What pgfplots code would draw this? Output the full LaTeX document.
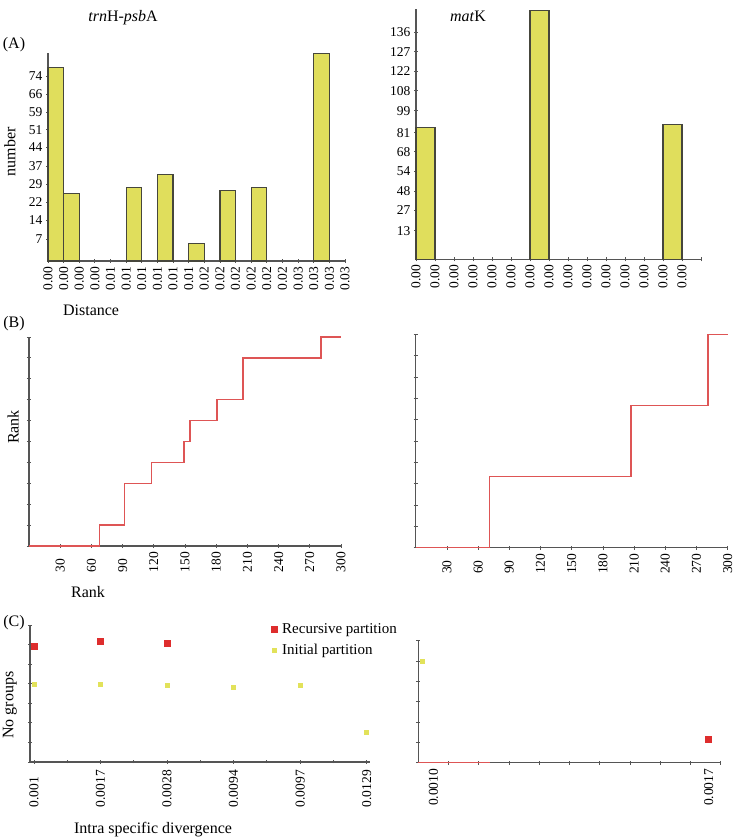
\documentclass[border=0pt]{standalone}
\usepackage{pgfplots}
\pgfplotsset{compat=1.18}
\usepackage{fontspec}
\setmainfont{Liberation Serif}

\definecolor{baryellow}{RGB}{224,222,92}
\definecolor{baredge}{RGB}{70,70,60}
\definecolor{axgray}{RGB}{85,85,85}
\definecolor{stepred}{RGB}{222,85,85}
\definecolor{ptred}{RGB}{222,45,45}
\definecolor{ptyellow}{RGB}{226,226,90}

\pgfplotsset{
  panel/.style={
    scale only axis, anchor=south west,
    axis lines=left, axis line style={-, axgray, line width=1.2pt},
    tick style={axgray, line width=0.8pt},
    major tick length=4pt, minor tick length=3pt, tick align=center,
    tick label style={font=\fontsize{13.5}{15}\selectfont},
    label style={font=\fontsize{16}{18}\selectfont},
    /pgf/number format/assume math mode=true,
    clip=false,
  },
  hist/.style={ybar, bar width=1, bar shift=0pt, fill=baryellow, draw=baredge, line width=1.2pt},
  botlabels/.style={x tick label style={rotate=90, anchor=east, text width=#1, align=left, inner sep=2pt}},
}

\begin{document}
\begin{tikzpicture}
\useasboundingbox (0,0) rectangle (737pt,840pt);

% (A) trnH-psbA histogram
\begin{axis}[panel, at={(48pt,579pt)}, width=297pt, height=208pt,
  xmin=0, xmax=19, ymin=0, ymax=84.7,
  xtick={0,...,19},
  xticklabels={0.00,0.00,0.00,0.00,0.01,0.01,0.01,0.01,0.01,0.01,0.02,0.02,0.02,0.02,0.02,0.02,0.03,0.03,0.03,0.03},
  x tick label style={rotate=90, anchor=east},
  ytick={8.9,16.6,23.9,31.2,38.5,46.2,53.4,60.7,68.0,75.3},
  yticklabels={7,14,22,29,37,44,51,59,66,74},
  xlabel={Distance}, ylabel={number},
  xlabel style={at={(axis description cs:0.145,-0.236)}, anchor=center},
  ylabel style={at={(axis description cs:-0.128,0.524)}, anchor=center},
]
\addplot[hist] coordinates {
  (0.5,78.7)(1.5,27.4)(5.5,29.8)(7.5,35.3)(9.5,7.0)(11.5,28.6)(13.5,29.8)(17.5,84.4)
};
\end{axis}

% (A) matK histogram
\begin{axis}[panel, at={(416pt,580.7pt)}, width=286pt, height=250.3pt,
  xmin=0, xmax=15.05, ymin=0, ymax=150,
  xtick={0,...,15},
  xticklabels={0.00,0.00,0.00,0.00,0.00,0.00,0.00,0.00,0.00,0.00,0.00,0.00,0.00,0.00,0.00,{}},
  x tick label style={rotate=90, anchor=east},
  ytick={17.1,29.5,40.9,52.9,64.4,75.8,89.0,101.0,112.8,124.3,135.9},
  yticklabels={13,27,48,54,68,81,99,108,122,127,136},
]
\addplot[hist] coordinates {(0.5,78.8)(6.5,149)(13.5,81.0)};
\end{axis}

% (B) rank plots
\begin{axis}[panel, at={(29pt,294pt)}, width=312pt, height=209pt,
  xmin=0, xmax=300, ymin=0, ymax=10,
  xtick={30,60,...,300}, ytick={0,...,10}, yticklabels={},
  botlabels=22pt,
  xlabel={Rank}, ylabel={Rank},
  xlabel style={at={(axis description cs:0.189,-0.22)}, anchor=center},
  ylabel style={at={(axis description cs:-0.051,0.569)}, anchor=center},
]
\addplot[stepred, line width=1.5pt] coordinates {
  (0,0)(68,0)(68,1)(92,1)(92,3)(118,3)(118,4)(149,4)(149,5)(155,5)(155,6)
  (181,6)(181,7)(206,7)(206,9)(281,9)(281,10)(300,10)
};
\end{axis}

\begin{axis}[panel, at={(415.7pt,292.3pt)}, width=312pt, height=213.4pt,
  xmin=0, xmax=300, ymin=0, ymax=10,
  xtick={30,60,...,300}, ytick={0,...,10}, yticklabels={},
  botlabels=22pt,
]
\addplot[stepred, line width=1.5pt] coordinates {
  (0,0)(71,0)(71,3.33)(207,3.33)(207,6.67)(281,6.67)(281,10)(300,10)
};
\end{axis}

% (C) number of groups
\begin{axis}[panel, at={(30pt,78pt)}, width=340pt, height=137pt,
  xmin=-0.06, xmax=5.05, ymin=0, ymax=7,
  xtick={0,...,5}, xticklabels={0.001,0.0017,0.0028,0.0094,0.0097,0.0129},
  minor x tick num=1,
  ytick={0,...,7}, yticklabels={},
  botlabels=41pt,
  xlabel={Intra specific divergence}, ylabel={No groups},
  xlabel style={at={(axis description cs:0.362,-0.496)}, anchor=center},
  ylabel style={at={(axis description cs:-0.059,0.416)}, anchor=center},
  legend style={at={(0.7,1.04)}, anchor=north west, draw=none, fill=none,
    font=\fontsize{15}{17}\selectfont, row sep=5pt,
    /tikz/every odd column/.append style={column sep=3pt}},
  legend cell align=left,
  legend image code/.code={\draw[mark repeat=2,mark phase=2,#1] plot coordinates {(0cm,0cm)(0.15cm,0cm)(0.3cm,0cm)};},
]
\addplot[only marks, mark=square*, mark size=3pt, ptred] coordinates {(0,5.93)(1,6.19)(2,6.07)};
\addlegendentry{Recursive partition}
\addplot[only marks, mark=square*, mark size=2pt, ptyellow] coordinates {
  (0,3.99)(1,3.99)(2,3.9)(3,3.83)(4,3.9)(5,1.52)
};
\addlegendentry{Initial partition}
\end{axis}

\begin{axis}[panel, at={(418.3pt,77.3pt)}, width=302.4pt, height=122pt,
  xmin=0, xmax=10, ymin=0, ymax=6,
  xtick={1,...,10}, xticklabels={},
  extra x ticks={0.5,9.6}, extra x tick labels={0.0010,0.0017},
  extra x tick style={major tick length=0pt},
  ytick={0,...,6}, yticklabels={},
  botlabels=41pt,
]
\addplot[stepred, line width=1.2pt] coordinates {(0,0)(2.37,0)};
\addplot[only marks, mark=square*, mark size=2pt, ptyellow] coordinates {(0.13,4.97)};
\addplot[only marks, mark=square*, mark size=3pt, ptred] coordinates {(9.6,1.15)};
\end{axis}

\begin{scope}[font=\fontsize{16}{18}\selectfont]
\node at (14pt,795pt) {(A)};
\node at (14pt,516pt) {(B)};
\node at (14pt,217pt) {(C)};
\node at (123pt,822pt) {\textit{trn}H-\textit{psb}A};
\node at (468pt,824pt) {\textit{mat}K};
\end{scope}
\end{tikzpicture}
\end{document}
